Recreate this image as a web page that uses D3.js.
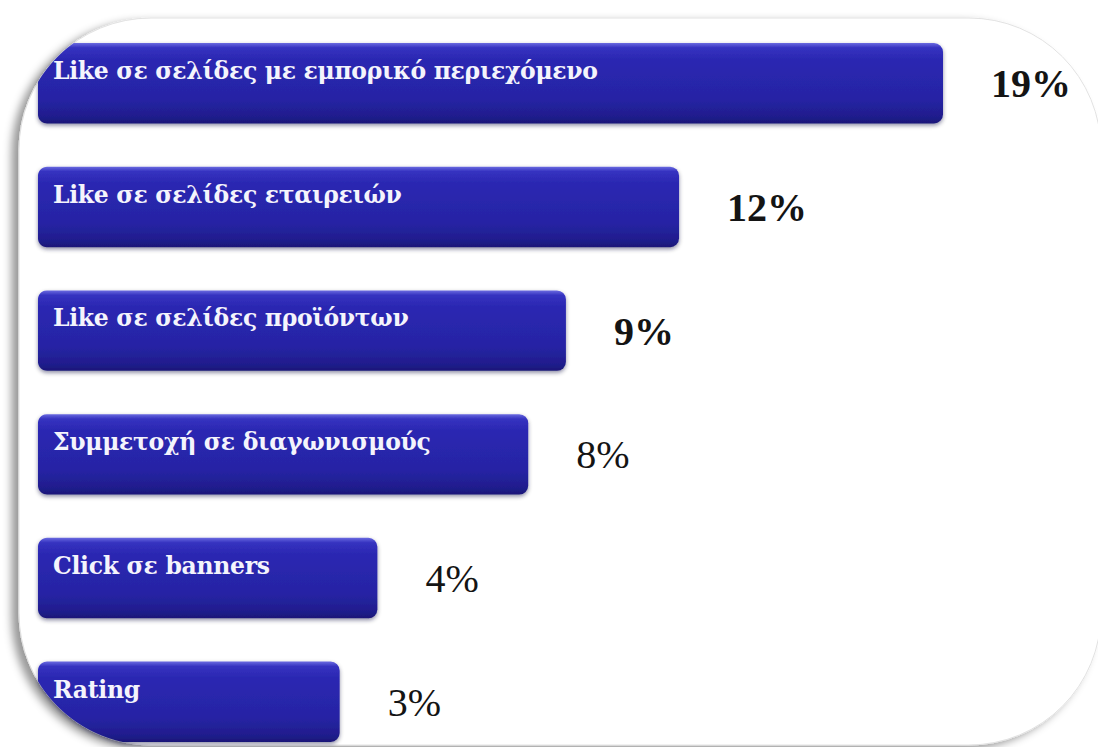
<!DOCTYPE html>
<html>
<head>
<meta charset="utf-8">
<script src="https://cdn.jsdelivr.net/npm/d3@7"></script>
<style>
  html, body { margin: 0; padding: 0; background: #ffffff; }
  svg { display: block; }
</style>
</head>
<body>
<svg id="chart" width="1098" height="747"></svg>
<script>
// Actions taken on social media (share of respondents, %)
const categories = [
  "Like σε σελίδες με εμπορικό περιεχόμενο",
  "Like σε σελίδες εταιρειών",
  "Like σε σελίδες προϊόντων",
  "Συμμετοχή σε διαγωνισμούς",
  "Click σε banners",
  "Rating"
];
const values = [19, 12, 9, 8, 4, 3];
const valueLabels = ["19%", "12%", "9%", "8%", "4%", "3%"];

const svg = d3.select("#chart");
const defs = svg.append("defs");

// Rounded white panel behind the bars
const panel = { x: 19, y: 18, w: 1082, h: 727, r: 132 };

const pShadow = defs.append("filter").attr("id", "panelShadow")
  .attr("x", "-5%").attr("y", "-5%").attr("width", "110%").attr("height", "110%");
pShadow.append("feDropShadow")
  .attr("dx", -7).attr("dy", 4).attr("stdDeviation", 4)
  .attr("flood-color", "#000").attr("flood-opacity", 0.4);

const bShadow = defs.append("filter").attr("id", "barShadow")
  .attr("x", "-5%").attr("y", "-20%").attr("width", "110%").attr("height", "150%");
bShadow.append("feDropShadow")
  .attr("dx", 0).attr("dy", 2).attr("stdDeviation", 2)
  .attr("flood-color", "#000033").attr("flood-opacity", 0.45);

// Glossy blue bar fill
const grad = defs.append("linearGradient").attr("id", "barGrad")
  .attr("x1", 0).attr("y1", 0).attr("x2", 0).attr("y2", 1);
[
  [0.00, "#6a6ae0"],
  [0.06, "#3532c0"],
  [0.20, "#2b28b2"],
  [0.70, "#2623a4"],
  [0.92, "#1f1d8c"],
  [1.00, "#191777"]
].forEach(([o, c]) => grad.append("stop").attr("offset", o).attr("stop-color", c));

svg.append("rect")
  .attr("x", panel.x).attr("y", panel.y)
  .attr("width", panel.w).attr("height", panel.h)
  .attr("rx", panel.r).attr("ry", panel.r)
  .attr("fill", "#ffffff")
  .attr("stroke", "#e2e2e2").attr("stroke-width", 1)
  .attr("filter", "url(#panelShadow)");

// Scales
const x0 = -5;
const x = d3.scaleLinear().domain([x0, 19]).range([38, 943]);
const y = d3.scaleBand().domain(categories).range([22, 763]).paddingInner(0.35).paddingOuter(0.17);

const rowData = categories.map((c, i) => ({ c, v: values[i], label: valueLabels[i], i }));

// Left edge of the panel at a given height (rounded corners)
function panelLeft(yy) {
  const { x: px, y: py, h, r } = panel;
  if (yy < py + r) { const d = py + r - yy; return px + r - Math.sqrt(Math.max(0, r * r - d * d)); }
  if (yy > py + h - r) { const d = yy - (py + h - r); return px + r - Math.sqrt(Math.max(0, r * r - d * d)); }
  return px;
}

// Bar outline: rounded right end, left end trimmed by the panel corners
function barPath(left, right, top, bottom, rr) {
  const leftAt = yy => {
    let b = left;
    if (yy < top + rr) { const d = top + rr - yy; b = left + rr - Math.sqrt(Math.max(0, rr * rr - d * d)); }
    else if (yy > bottom - rr) { const d = yy - (bottom - rr); b = left + rr - Math.sqrt(Math.max(0, rr * rr - d * d)); }
    return Math.max(b, panelLeft(yy));
  };
  const p = d3.path();
  p.moveTo(leftAt(top), top);
  p.lineTo(right - rr, top);
  p.arcTo(right, top, right, top + rr, rr);
  p.lineTo(right, bottom - rr);
  p.arcTo(right, bottom, right - rr, bottom, rr);
  for (let yy = bottom; yy >= top; yy -= 0.5) p.lineTo(leftAt(yy), yy);
  p.closePath();
  return p.toString();
}

svg.selectAll("path.bar").data(rowData).join("path").attr("class", "bar")
  .attr("d", d => barPath(x(x0), x(d.v), y(d.c), y(d.c) + y.bandwidth(), 9))
  .attr("fill", "url(#barGrad)")
  .attr("filter", "url(#barShadow)");

svg.selectAll("text.cat").data(rowData).join("text").attr("class", "cat")
  .attr("x", 53)
  .attr("y", d => y(d.c) + 36)
  .attr("fill", "#f4f4fc")
  .attr("font-family", "'DejaVu Serif', 'Liberation Serif', serif")
  .attr("font-weight", "bold")
  .attr("font-size", 23.5)
  .attr("letter-spacing", -0.3)
  .text(d => d.c);

svg.selectAll("text.val").data(rowData)
  .join("text").attr("class", "val")
  .attr("x", d => x(d.v) + 48)
  .attr("y", d => y(d.c) + y.bandwidth() / 2 + 14)
  .attr("fill", "#141414")
  .attr("font-family", "'Liberation Serif', 'DejaVu Serif', serif")
  .attr("font-weight", d => d.i < 3 ? "bold" : "normal")
  .attr("font-size", 40)
  .text(d => d.label);
</script>
</body>
</html>
